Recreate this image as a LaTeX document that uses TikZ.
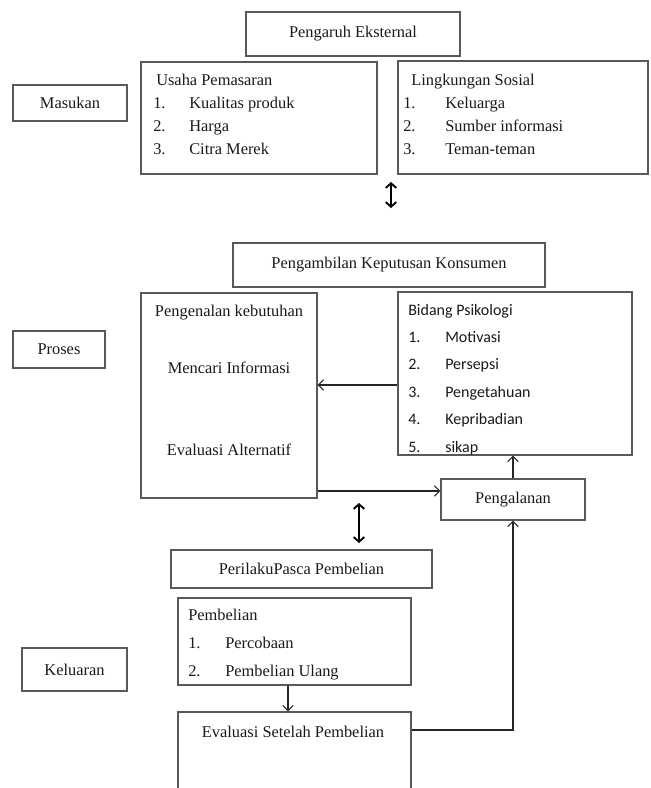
\documentclass[tikz,border=0pt]{standalone}
\usepackage{fontspec}
\setmainfont{Liberation Serif}
\newfontfamily\calibri{Carlito}
\usetikzlibrary{arrows.meta,fit,positioning}
\begin{document}
\begin{tikzpicture}[x=0.75pt,y=-0.75pt, every node/.style={font=\fontsize{12.3}{14}\selectfont,text=black!90},
  box/.style={draw=black!65,line width=0.8pt,inner sep=0pt,fit={#1}},
  txt/.style={inner sep=0pt,anchor=mid west},
  mid/.style={inner sep=0pt},
  lnk/.style={draw=black!85,line width=0.8pt,-{Straight Barb[length=4pt,width=8pt]}},
  dbl/.style={draw=black,line width=1.4pt,{Straight Barb[length=3.5pt,width=8pt]}-{Straight Barb[length=3.5pt,width=8pt]}}]
\useasboundingbox (0,0) rectangle (650,788);
% masukan
\node[box={(13,85) (127,121)}] (masuk) {};
\node[mid] (masukT) at (masuk.center) {Masukan};
\node[box={(246,12) (460,56)}] (ekstern) {};
\node[mid] (eksternT) at (ekstern.center) {Pengaruh Eksternal};
\node[box={(141,62) (377,174)}] (usaha) {};
\node[box={(398,61) (648,174)}] (sosial) {};
\node[txt] (usahaT) at (156,82) {Usaha Pemasaran};
\foreach \t [count=\i] in {Kualitas produk,Harga,Citra Merek} {
  \node[txt] (usahaN\i) at (153,82+23.3*\i) {\i.};
  \node[txt] (usahaI\i) at (189,82+23.3*\i) {\t};
}
\node[txt] (sosialT) at (411,82) {Lingkungan Sosial};
\foreach \t [count=\i] in {Keluarga,Sumber informasi,Teman-teman} {
  \node[txt] (sosialN\i) at (403,82+23.3*\i) {\i.};
  \node[txt] (sosialI\i) at (445,82+23.3*\i) {\t};
}
\coordinate (d1a) at (391,182);
\coordinate (d1b) at (391,208);
\draw[dbl] (d1a) -- (d1b);
% proses
\node[box={(13,331) (105,368)}] (proses) {};
\node[mid] (prosesT) at (proses.center) {Proses};
\node[box={(233,243) (545,287)}] (ambil) {};
\node[mid] (ambilT) at (ambil.center) {Pengambilan Keputusan Konsumen};
\node[box={(141,293) (317,498)}] (kenal) {};
\node[mid] (kenal1) at (229,313) {Pengenalan kebutuhan};
\node[mid] (kenal2) at (229,368) {Mencari Informasi};
\node[mid] (kenal3) at (229,450) {Evaluasi Alternatif};
\node[box={(398,292) (632,455)}] (psiko) {};
\node[txt,font=\calibri\fontsize{12}{14}\selectfont] (psikoT) at (408,312) {Bidang Psikologi};
\foreach \t [count=\i] in {Motivasi,Persepsi,Pengetahuan,Kepribadian,sikap} {
  \node[txt,font=\calibri\fontsize{12}{14}\selectfont] (psikoN\i) at (408,312+27.4*\i) {\i.};
  \node[txt,font=\calibri\fontsize{12}{14}\selectfont] (psikoI\i) at (445,312+27.4*\i) {\t};
}
\node[box={(441,479) (585,520)}] (alami) {};
\node[mid] (alamiT) at (alami.center) {Pengalanan};
\draw[lnk] (psiko.west |- {(0,385)}) -- (kenal.east |- {(0,385)});
\draw[lnk] (kenal.east |- {(0,491)}) -- (alami.west |- {(0,491)});
\draw[lnk] (alami.north) -- (alami.north |- psiko.south);
\coordinate (d2a) at (359,503);
\coordinate (d2b) at (359,543);
\draw[dbl] (d2a) -- (d2b);
% keluaran
\node[box={(22,648) (127,691)}] (keluar) {};
\node[mid] (keluarT) at (keluar.center) {Keluaran};
\node[box={(171,550) (432,588)}] (pasca) {};
\node[mid] (pascaT) at (pasca.center) {PerilakuPasca Pembelian};
\node[box={(178,598) (411,685)}] (beli) {};
\node[txt] (beliT) at (188,617) {Pembelian};
\foreach \t [count=\i] in {Percobaan,Pembelian Ulang} {
  \node[txt] (beliN\i) at (188,617+28*\i) {\i.};
  \node[txt] (beliI\i) at (225,617+28*\i) {\t};
}
\node[box={(178,712) (411,830)}] (evalu) {};
\node[mid] (evaluT) at (293,732) {Evaluasi Setelah Pembelian};
\draw[lnk] (beli.south -| {(288,0)}) -- (evalu.north -| {(288,0)});
\draw[lnk] (evalu.east |- {(0,730)}) -| (alami.south);
\end{tikzpicture}
\end{document}
